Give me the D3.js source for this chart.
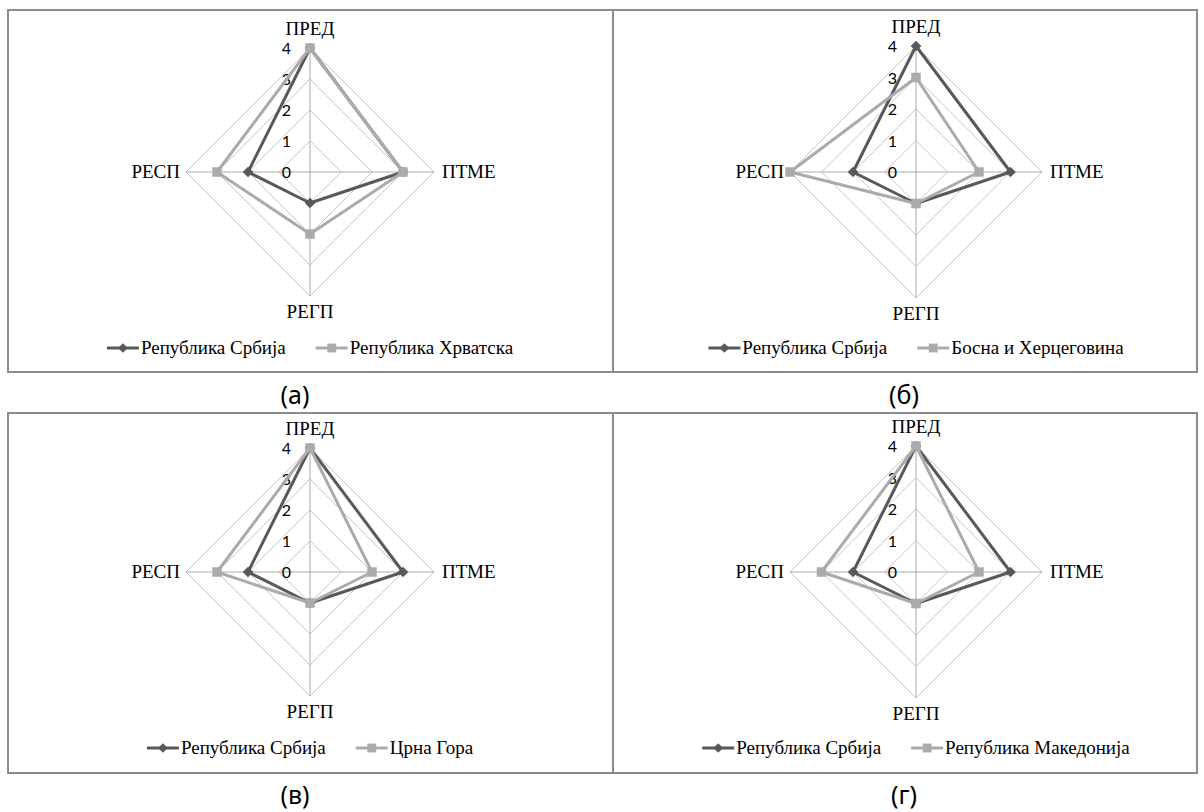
<!DOCTYPE html>
<html>
<head>
<meta charset="utf-8">
<script src="https://cdn.jsdelivr.net/npm/d3@7"></script>
<style>
  html, body { margin: 0; padding: 0; background: #fff; }
  svg { display: block; }
</style>
</head>
<body>
<svg id="chart" width="1204" height="812"></svg>
<script>
// Radar axes (clockwise from the top) and the value scale
const categories = ["ПРЕД", "ПТМЕ", "РЕГП", "РЕСП"];
const ticks = [0, 1, 2, 3, 4];

// Scores per axis, in the order of `categories`
const serbia     = [4, 3, 1, 2];
const croatia    = [4, 3, 2, 3];
const bosnia     = [3, 2, 1, 4];
const montenegro = [4, 2, 1, 3];
const macedonia  = [4, 2, 1, 3];

const serbiaName     = "Република Србија";
const croatiaName    = "Република Хрватска";
const bosniaName     = "Босна и Херцеговина";
const montenegroName = "Црна Гора";
const macedoniaName  = "Република Македонија";

const captions = ["(а)", "(б)", "(в)", "(г)"];

// Panel frames and radar placement
const panels = [
  { x: 8,   y: 10,  w: 605, h: 362, cx: 310, cy: 172, r: 124, caption: captions[0], capX: 295, capY: 404,
    other: croatia, otherName: croatiaName },
  { x: 613, y: 10,  w: 584, h: 362, cx: 916, cy: 172, r: 126, caption: captions[1], capX: 904, capY: 404,
    other: bosnia, otherName: bosniaName },
  { x: 8,   y: 413, w: 605, h: 360, cx: 310, cy: 572, r: 124, caption: captions[2], capX: 295, capY: 804,
    other: montenegro, otherName: montenegroName },
  { x: 613, y: 413, w: 584, h: 360, cx: 916, cy: 572, r: 126, caption: captions[3], capX: 904, capY: 804,
    other: macedonia, otherName: macedoniaName }
];

const darkColor = "#595959";
const lightColor = "#ababab";
const serifFont = "'Liberation Serif', 'DejaVu Serif', serif";
const sansFont = "Lato, 'Open Sans', sans-serif";
const labelSize = 19;

const svg = d3.select("#chart");

const angle = d3.scalePoint()
  .domain(categories)
  .range([0, 2 * Math.PI * (categories.length - 1) / categories.length]);

const diamond = d3.symbol().type(d3.symbolDiamond2).size(72);
const square = d3.symbol().type(d3.symbolSquare2).size(115);
const legendDiamond = d3.symbol().type(d3.symbolDiamond2).size(60);
const legendSquare = d3.symbol().type(d3.symbolSquare2).size(100);

panels.forEach(p => {
  const g = svg.append("g");

  // frame
  g.append("rect")
    .attr("x", p.x).attr("y", p.y).attr("width", p.w).attr("height", p.h)
    .attr("fill", "none").attr("stroke", "#8c8c8c").attr("stroke-width", 2);

  const rScale = d3.scaleLinear().domain([0, 4]).range([0, p.r]);
  const radar = g.append("g").attr("transform", `translate(${p.cx},${p.cy})`);

  const pt = (cat, v) => {
    const a = angle(cat);
    return [Math.sin(a) * rScale(v), -Math.cos(a) * rScale(v)];
  };

  // concentric grid rings
  ticks.filter(t => t > 0).forEach(t => {
    radar.append("path")
      .attr("d", d3.line()(categories.map(c => pt(c, t))) + "Z")
      .attr("fill", "none").attr("stroke", "#c8c8c8").attr("stroke-width", 1);
  });

  // spokes
  categories.forEach(c => {
    const [x, y] = pt(c, 4);
    radar.append("line")
      .attr("x1", 0).attr("y1", 0).attr("x2", x).attr("y2", y)
      .attr("stroke", "#ababab").attr("stroke-width", 1);
  });

  // value labels along the top spoke
  radar.selectAll("text.tick").data(ticks).join("text")
    .attr("class", "tick")
    .attr("x", -19)
    .attr("y", d => -rScale(d))
    .attr("dy", "0.38em")
    .attr("text-anchor", "end")
    .attr("font-family", sansFont)
    .attr("font-size", 16)
    .attr("fill", "#000")
    .text(d => d);

  // axis names
  categories.forEach(c => {
    const a = angle(c);
    const t = radar.append("text")
      .attr("font-family", serifFont).attr("font-size", labelSize).attr("fill", "#000")
      .text(c);
    if (Math.abs(Math.sin(a)) < 0.01) {
      const top = Math.cos(a) > 0;
      t.attr("x", 0)
        .attr("y", top ? -rScale(4) - 13 : rScale(4) + 22)
        .attr("text-anchor", "middle");
    } else {
      const right = Math.sin(a) > 0;
      t.attr("x", right ? rScale(4) + 8 : -rScale(4) - 6)
        .attr("y", 6)
        .attr("text-anchor", right ? "start" : "end");
    }
  });

  const radial = d3.lineRadial()
    .angle((d, i) => angle(categories[i]))
    .radius(d => rScale(d))
    .curve(d3.curveLinearClosed);

  const series = [
    { values: serbia, color: darkColor, sym: diamond },
    { values: p.other, color: lightColor, sym: square }
  ];

  series.forEach(s => {
    radar.append("path")
      .attr("d", radial(s.values))
      .attr("fill", "none")
      .attr("stroke", s.color)
      .attr("stroke-width", 3)
      .attr("stroke-linejoin", "round");
    s.values.forEach((v, i) => {
      const [x, y] = pt(categories[i], v);
      radar.append("path")
        .attr("d", s.sym())
        .attr("transform", `translate(${x},${y})`)
        .attr("fill", s.color);
    });
  });

  // legend, centred under the radar
  const legend = g.append("g");
  const items = [
    { name: serbiaName, color: darkColor, sym: legendDiamond },
    { name: p.otherName, color: lightColor, sym: legendSquare }
  ];
  const lineLen = 32, gapText = 2, gapItem = 30;
  let xCursor = 0;
  const ly = p.cy + 176;
  items.forEach(it => {
    const ig = legend.append("g").attr("transform", `translate(${xCursor},0)`);
    ig.append("line")
      .attr("x1", 0).attr("x2", lineLen).attr("y1", ly).attr("y2", ly)
      .attr("stroke", it.color).attr("stroke-width", 3);
    ig.append("path")
      .attr("d", it.sym())
      .attr("transform", `translate(${lineLen / 2},${ly})`)
      .attr("fill", it.color);
    const txt = ig.append("text")
      .attr("x", lineLen + gapText).attr("y", ly + 6)
      .attr("font-family", serifFont).attr("font-size", labelSize).attr("fill", "#000")
      .text(it.name);
    xCursor += lineLen + gapText + txt.node().getComputedTextLength() + gapItem;
  });
  const totalW = xCursor - gapItem;
  legend.attr("transform", `translate(${p.cx - totalW / 2},0)`);

  // panel caption
  svg.append("text")
    .attr("x", p.capX).attr("y", p.capY)
    .attr("text-anchor", "middle")
    .attr("font-family", "'Noto Sans', 'Open Sans', sans-serif")
    .attr("font-size", 25)
    .attr("fill", "#000")
    .text(p.caption);
});
</script>
</body>
</html>
